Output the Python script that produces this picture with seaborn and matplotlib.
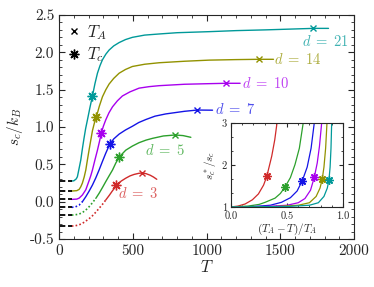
import seaborn as sns
import matplotlib
matplotlib.use("Agg")
import matplotlib.pyplot as plt
from matplotlib.ticker import AutoMinorLocator, MultipleLocator

# Werte
d_values = [3, 5, 7, 10, 14, 21]
colors = ['#d02a2a', '#2ca02c', '#1414e6', '#a800ee', '#929200', '#009999']

T_d3 = [86, 110, 136, 158, 181, 203, 226, 249, 271, 294, 316, 340, 362, 389, 420, 452, 480, 508, 540, 565, 590, 617, 640, 662]
s_d3 = [-0.326, -0.322, -0.309, -0.29, -0.259, -0.228, -0.188, -0.14, -0.089, -0.035, 0.022, 0.085, 0.147, 0.215,
        0.275, 0.315, 0.345, 0.365, 0.38, 0.385, 0.375, 0.355, 0.33, 0.30]
T_d5 = [86, 110, 136, 158, 181, 203, 226, 249, 271, 294, 316, 340, 362, 385, 407, 430, 452, 497, 542, 590, 633, 707,
        786, 840, 893]
s_d5 = [-0.179, -0.175, -0.165, -0.145, -0.112, -0.068, -0.014, 0.045, 0.112, 0.19, 0.268, 0.35, 0.424, 0.52, 0.595,
        0.645, 0.69, 0.745, 0.79, 0.825, 0.848, 0.88, 0.893, 0.885, 0.862]
T_d7 = [86, 110, 136, 158, 181, 203, 226, 249, 271, 294, 316, 343, 370, 407, 450, 497, 540, 588, 650, 723, 850, 937,
        1040]
s_d7 = [-0.075, -0.07, -0.045, 0.0, 0.067, 0.14, 0.223, 0.32, 0.424, 0.54, 0.648, 0.768, 0.84, 0.905, 0.96, 1.01,
        1.06, 1.10, 1.145, 1.175, 1.21, 1.227, 1.225]
T_d10 = [86, 120, 136, 158, 181, 203, 215, 226, 243, 260, 273, 287, 300, 316, 338, 362, 395, 429, 480, 542, 610, 678,
         850, 1017, 1132, 1227]
s_d10 = [0.031, 0.035, 0.048, 0.09, 0.16, 0.28, 0.35, 0.424, 0.56, 0.69, 0.8, 0.924, 1.01, 1.094, 1.19, 1.27, 1.35,
         1.415, 1.47, 1.52, 1.54, 1.553, 1.572, 1.58, 1.585, 1.585]
T_d14 = [86, 120, 136, 147, 158, 170, 181, 192, 203, 215, 226, 240, 253, 273, 294, 317, 339, 370, 407, 450, 497, 580,
         678, 850, 1017, 1200, 1354, 1453]
s_d14 = [0.143, 0.148, 0.165, 0.2, 0.25, 0.33, 0.424, 0.56, 0.69, 0.826, 0.95, 1.06, 1.138, 1.28, 1.405, 1.50, 1.575,
         1.65, 1.72, 1.77, 1.81, 1.84, 1.86, 1.88, 1.895, 1.902, 1.906, 1.906]
T_d21 = [86, 100, 116, 124, 135, 147, 158, 169, 180, 192, 209, 226, 243, 260, 277, 294, 317, 339, 370, 407, 450, 497,
         580, 678, 800, 1017, 1200, 1400, 1724, 1826]
s_d21 = [0.277, 0.28, 0.305, 0.334, 0.44, 0.558, 0.71, 0.85, 0.98, 1.094, 1.26, 1.415, 1.58, 1.72, 1.82, 1.90, 1.975,
         2.03, 2.085, 2.13, 2.17, 2.20, 2.23, 2.245, 2.262, 2.276, 2.29, 2.30, 2.32, 2.32]

T_curves = [T_d3, T_d5, T_d7, T_d10, T_d14, T_d21]
s_curves = [s_d3, s_d5, s_d7, s_d10, s_d14, s_d21]

# T_A (Kreuz) und T_c (Stern)
TA_T = [565, 786, 937, 1132, 1354, 1724]
TA_s = [0.388, 0.893, 1.227, 1.585, 1.906, 2.32]
Tc_T = [389, 407, 343, 287, 253, 226]
Tc_s = [0.225, 0.598, 0.768, 0.924, 1.138, 1.415]

# Beschriftungen d = ...
label_T = [531, 719, 1193, 1397, 1618, 1803]
label_s = [0.11, 0.69, 1.237, 1.585, 1.906, 2.14]

# Einschub: s_c^*/s_c gegen (T_A - T)/T_A
x_d3 = [0.0, 0.06, 0.125, 0.19, 0.244, 0.29, 0.319, 0.363, 0.39, 0.415]
y_d3 = [1.0, 1.02, 1.07, 1.17, 1.31, 1.52, 1.73, 2.21, 2.6, 3.1]
x_d5 = [0.0, 0.15, 0.25, 0.304, 0.393, 0.44, 0.482, 0.53, 0.571, 0.61, 0.65]
y_d5 = [1.0, 1.02, 1.06, 1.11, 1.21, 1.32, 1.476, 1.7, 2.01, 2.4, 3.1]
x_d7 = [0.0, 0.2, 0.35, 0.45, 0.53, 0.59, 0.637, 0.68, 0.715, 0.748]
y_d7 = [1.0, 1.01, 1.04, 1.11, 1.22, 1.38, 1.63, 1.95, 2.4, 3.1]
x_d10 = [0.0, 0.3, 0.5, 0.6, 0.66, 0.71, 0.744, 0.77, 0.79, 0.813]
y_d10 = [1.0, 1.01, 1.04, 1.1, 1.2, 1.4, 1.71, 2.05, 2.45, 3.1]
x_d14 = [0.0, 0.4, 0.6, 0.7, 0.76, 0.795, 0.815, 0.83, 0.845, 0.859]
y_d14 = [1.0, 1.01, 1.04, 1.1, 1.25, 1.45, 1.67, 1.95, 2.4, 3.1]
x_d21 = [0.0, 0.5, 0.7, 0.78, 0.83, 0.86, 0.875, 0.885, 0.893, 0.9]
y_d21 = [1.0, 1.01, 1.04, 1.1, 1.25, 1.45, 1.65, 1.95, 2.4, 3.1]
x_inset = [x_d3, x_d5, x_d7, x_d10, x_d14, x_d21]
y_inset = [y_d3, y_d5, y_d7, y_d10, y_d14, y_d21]
star_x = [0.319, 0.482, 0.637, 0.744, 0.815, 0.875]
star_y = [1.73, 1.476, 1.63, 1.71, 1.67, 1.65]

sns.set_style("ticks")
plt.rcParams['font.family'] = 'serif'
plt.rcParams['font.serif'] = ['cmr10', 'DejaVu Serif']
plt.rcParams['mathtext.fontset'] = 'cm'
plt.rcParams['axes.unicode_minus'] = False
plt.rcParams['axes.formatter.use_mathtext'] = False

star = (8, 2, 0)

fig = plt.figure(figsize=(3.74, 2.87), dpi=100)
ax = fig.add_axes([0.158, 0.167, 0.789, 0.781])

for i, d in enumerate(d_values):
    T = T_curves[i]
    s = s_curves[i]
    c = colors[i]
    # gepunktet solange s < 0
    neg = [k for k in range(len(s)) if s[k] < 0]
    if neg:
        n = neg[-1] + 2
        sns.lineplot(x=T[:n], y=s[:n], ax=ax, color=c, lw=1.2, sort=False,
                     linestyle=(0, (1, 1.3)))
        sns.lineplot(x=T[n - 1:], y=s[n - 1:], ax=ax, color=c, lw=1.0, sort=False)
    else:
        sns.lineplot(x=T, y=s, ax=ax, color=c, lw=1.0, sort=False)
    # schwarze Striche bei T -> 0
    ax.plot([0, T[0]], [s[0], s[0]], color='black', lw=1.3, dashes=(3.5, 1.5))
    ax.plot(TA_T[i], TA_s[i], marker='x', color=c, ms=5, mew=1.0)
    ax.plot(Tc_T[i], Tc_s[i], marker=star, color=c, ms=7, mew=1.0)
    ax.text(label_T[i], label_s[i], f"$d\\;=\\;{d}$", color=c, alpha=0.75,
            fontsize=10.5, ha='center', va='center')

ax.plot([], [], 'x', color='black', ms=5, mew=1.0, label='$T_A$')
ax.plot([], [], marker=star, ls='none', color='black', ms=7, mew=1.0, label='$T_c$')
ax.legend(loc='upper left', frameon=False, fontsize=12, handlelength=0.8,
          handletextpad=0.4, borderaxespad=0.1, labelspacing=0.2)

ax.set_xlim(0, 2000)
ax.set_ylim(-0.5, 2.5)
ax.xaxis.set_major_locator(MultipleLocator(500))
ax.yaxis.set_major_locator(MultipleLocator(0.5))
ax.xaxis.set_minor_locator(AutoMinorLocator(5))
ax.yaxis.set_minor_locator(AutoMinorLocator(5))
ax.tick_params(which='both', direction='in', top=True, right=True, labelsize=11)
ax.tick_params(which='major', length=4)
ax.tick_params(which='minor', length=2)
ax.set_xlabel('$T$', fontsize=12, labelpad=1)
ax.set_ylabel('$s_c/k_B$', fontsize=11, labelpad=3)

# Einschub
axin = fig.add_axes([0.618, 0.279, 0.299, 0.292])
for i in range(len(d_values)):
    sns.lineplot(x=x_inset[i], y=y_inset[i], ax=axin, color=colors[i], lw=0.9, sort=False)
    axin.plot(star_x[i], star_y[i], marker=star, color=colors[i], ms=6, mew=1.0)
axin.set_xlim(0, 1)
axin.set_ylim(1, 3)
axin.xaxis.set_major_locator(MultipleLocator(0.5))
axin.yaxis.set_major_locator(MultipleLocator(1))
axin.xaxis.set_minor_locator(AutoMinorLocator(5))
axin.yaxis.set_minor_locator(AutoMinorLocator(3))
axin.tick_params(which='both', direction='in', top=True, right=True, labelsize=7.5)
axin.tick_params(axis='x', pad=3.5)
axin.tick_params(axis='y', pad=3)
axin.tick_params(which='major', length=3)
axin.tick_params(which='minor', length=1.5)
axin.set_xlabel('$(T_A-T)/T_A$', fontsize=8, labelpad=0)
axin.set_ylabel('$s_c^*/s_c$', fontsize=8, labelpad=3)

fig.savefig('out.png', dpi=100)
